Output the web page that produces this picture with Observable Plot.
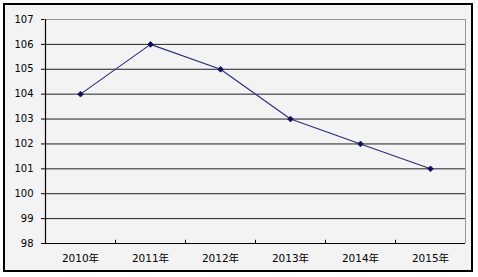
<!DOCTYPE html>
<html><head><meta charset="utf-8">
<script src="https://cdn.jsdelivr.net/npm/d3@7"></script>
<script src="https://cdn.jsdelivr.net/npm/@observablehq/plot@0.6"></script>
<style>
body{margin:0;background:#fff;}
#wrap{position:relative;width:478px;height:277px;}
#box{position:absolute;left:3px;top:3px;width:466px;height:265px;border:2px solid #000;background:#f3f3f3;}
#chart{position:absolute;left:0;top:0;}
</style></head>
<body><div id="wrap"><div id="box"></div><div id="chart"></div></div>
<script>
const years = ["2010年","2011年","2012年","2013年","2014年","2015年"];
const values = [104, 106, 105, 103, 102, 101];
const yTicks = [98, 99, 100, 101, 102, 103, 104, 105, 106, 107];
const data = years.map((y, i) => ({year: y, value: values[i]}));

const chart = Plot.plot({
  width: 478, height: 277,
  marginLeft: 44, marginRight: 13, marginTop: 19, marginBottom: 34,
  style: {background: "transparent", fontFamily: "'DejaVu Sans','Noto Sans CJK SC',sans-serif", fontSize: "10px", color: "#000"},
  x: {type: "band", domain: years, padding: 0, label: null},
  y: {domain: [98, 107], label: null},
  marks: [
    Plot.ruleY(yTicks.slice(1, -1), {stroke: "#222", strokeWidth: 1, strokeOpacity: 1}),
    Plot.ruleY([107], {stroke: "#999", strokeWidth: 1}),
    Plot.ruleX([years[years.length - 1]], {dx: 35, stroke: "#999", strokeWidth: 1}),
    Plot.axisY({ticks: yTicks, tickSize: 3, tickPadding: 8, tickFormat: d => d, stroke: "#000", strokeOpacity: 1, label: null}),
    Plot.axisX({tickSize: 0, tickPadding: 11, label: null, fontSize: 10.5}),
    Plot.ruleX(years.slice(1), {y1: 98, y2: 98.13, dx: -35, stroke: "#000"}),
    Plot.ruleY([98], {stroke: "#000", strokeWidth: 1.2}),
    Plot.ruleX([years[0]], {dx: -35, stroke: "#000", strokeWidth: 1.2}),
    Plot.line(data, {x: "year", y: "value", stroke: "#2a2a7c", strokeWidth: 1.1}),
    Plot.dot(data, {x: "year", y: "value", symbol: "diamond2", r: 2.6, fill: "#10105a", stroke: "#10105a", strokeWidth: 0.8})
  ]
});
document.getElementById("chart").appendChild(chart);
</script></body></html>
